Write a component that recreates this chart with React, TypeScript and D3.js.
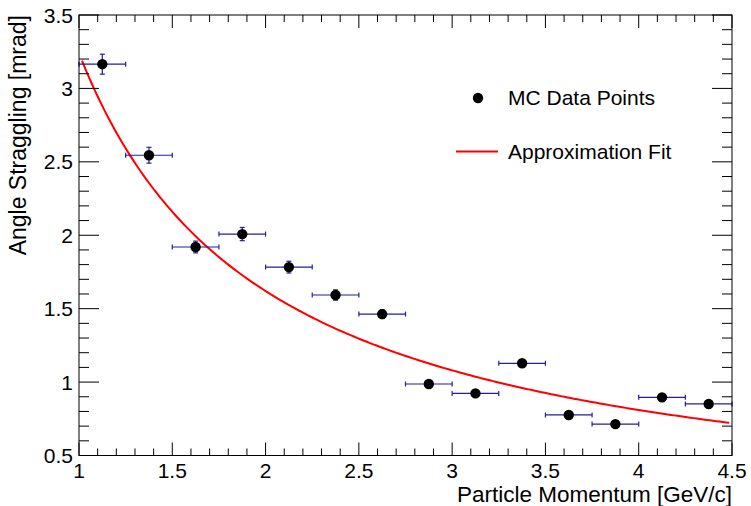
import React from "react";
import * as d3 from "d3";

const momentum = [1.125, 1.375, 1.625, 1.875, 2.125, 2.375, 2.625, 2.875, 3.125, 3.375, 3.625, 3.875, 4.125, 4.375];
const momentumErr = [0.125, 0.125, 0.125, 0.125, 0.125, 0.125, 0.125, 0.125, 0.125, 0.125, 0.125, 0.125, 0.125, 0.125];
const straggling = [3.165, 2.545, 1.92, 2.008, 1.783, 1.593, 1.463, 0.987, 0.923, 1.128, 0.776, 0.714, 0.896, 0.851];
const stragglingErr = [0.068, 0.054, 0.04, 0.045, 0.04, 0.035, 0.03, 0.022, 0.02, 0.022, 0.018, 0.016, 0.02, 0.02];

// fit parameters: theta = A / p^B over the fit range
const fitA = 3.24;
const fitB = 1.0;
const fitRange = [1.016, 4.485];

const xTicks = [1, 1.5, 2, 2.5, 3, 3.5, 4, 4.5];
const yTicks = [0.5, 1, 1.5, 2, 2.5, 3, 3.5];

const W = 751, H = 506;
const L = 79, R = 732, T = 15, B = 455.5;
const FONT = "'Liberation Sans', Arial, Helvetica, sans-serif";

export default function App() {
  const x = d3.scaleLinear().domain([1, 4.5]).range([L, R]);
  const y = d3.scaleLinear().domain([0.5, 3.5]).range([B, T]);

  const xMinor = d3.range(10, 46).map((v) => v / 10).filter((v) => Math.abs(v * 2 - Math.round(v * 2)) > 1e-6);
  const yMinor = d3.range(5, 36).map((v) => v / 10).filter((v) => Math.abs(v * 2 - Math.round(v * 2)) > 1e-6);

  const fitPts = d3.range(0, 201).map((i) => {
    const p = fitRange[0] + ((fitRange[1] - fitRange[0]) * i) / 200;
    return [p, fitA / Math.pow(p, fitB)] as [number, number];
  });
  const line = d3.line<[number, number]>().x((d) => x(d[0])).y((d) => y(d[1]));

  const errColor = "#1f1f9f";

  return (
    <div style={{ position: "fixed", left: 0, top: 0 }}>
      <svg width={W} height={H} style={{ display: "block", background: "#fff" }}>
        <rect x={0} y={0} width={W} height={H} fill="#fff" />
        {/* fit curve */}
        <path d={line(fitPts) || ""} fill="none" stroke="#ff0000" strokeWidth={2} />
        {/* error bars */}
        {momentum.map((p, i) => {
          const cx = x(p), cy = y(straggling[i]);
          const x0 = x(p - momentumErr[i]), x1 = x(p + momentumErr[i]);
          const y0 = y(straggling[i] - stragglingErr[i]), y1 = y(straggling[i] + stragglingErr[i]);
          return (
            <g key={"e" + i} stroke={errColor} strokeWidth={1.2} fill="none">
              <line x1={x0} x2={x1} y1={cy} y2={cy} />
              <line x1={x0} x2={x0} y1={cy - 2.5} y2={cy + 2.5} />
              <line x1={x1} x2={x1} y1={cy - 2.5} y2={cy + 2.5} />
              <line x1={cx} x2={cx} y1={y0} y2={y1} />
              <line x1={cx - 2.5} x2={cx + 2.5} y1={y0} y2={y0} />
              <line x1={cx - 2.5} x2={cx + 2.5} y1={y1} y2={y1} />
            </g>
          );
        })}
        {momentum.map((p, i) => (
          <circle key={"m" + i} cx={x(p)} cy={y(straggling[i])} r={5.2} fill="#000" />
        ))}
        {/* frame */}
        <rect x={L} y={T} width={R - L} height={B - T} fill="none" stroke="#000" strokeWidth={1} />
        {/* ticks */}
        <g stroke="#000" strokeWidth={1}>
          {xTicks.map((v) => (
            <g key={"xt" + v}>
              <line x1={x(v)} x2={x(v)} y1={B} y2={B - 13} />
              <line x1={x(v)} x2={x(v)} y1={T} y2={T + 13} />
            </g>
          ))}
          {xMinor.map((v) => (
            <g key={"xm" + v}>
              <line x1={x(v)} x2={x(v)} y1={B} y2={B - 7} />
              <line x1={x(v)} x2={x(v)} y1={T} y2={T + 7} />
            </g>
          ))}
          {yTicks.map((v) => (
            <g key={"yt" + v}>
              <line x1={L} x2={L + 20} y1={y(v)} y2={y(v)} />
              <line x1={R} x2={R - 20} y1={y(v)} y2={y(v)} />
            </g>
          ))}
          {yMinor.map((v) => (
            <g key={"ym" + v}>
              <line x1={L} x2={L + 10} y1={y(v)} y2={y(v)} />
              <line x1={R} x2={R - 10} y1={y(v)} y2={y(v)} />
            </g>
          ))}
        </g>
        {/* tick labels */}
        <g fontFamily={FONT} fontSize={21} fill="#000">
          {xTicks.map((v) => (
            <text key={"xl" + v} x={x(v)} y={477.5} textAnchor="middle">{String(v)}</text>
          ))}
          {yTicks.map((v) => (
            <text key={"yl" + v} x={73} y={y(v) + 7.5} textAnchor="end">{String(v)}</text>
          ))}
        </g>
        {/* axis titles */}
        <text x={R} y={502} textAnchor="end" fontFamily={FONT} fontSize={22.5}>Particle Momentum [GeV/c]</text>
        <text transform={`translate(26,${T}) rotate(-90)`} textAnchor="end" fontFamily={FONT} fontSize={23}>Angle Straggling [mrad]</text>
        {/* legend */}
        <circle cx={478} cy={98} r={5.2} fill="#000" />
        <text x={508} y={105} fontFamily={FONT} fontSize={21}>MC Data Points</text>
        <line x1={456} x2={498} y1={151.5} y2={151.5} stroke="#ff0000" strokeWidth={2} />
        <text x={508} y={158.5} fontFamily={FONT} fontSize={21}>Approximation Fit</text>
      </svg>
    </div>
  );
}
